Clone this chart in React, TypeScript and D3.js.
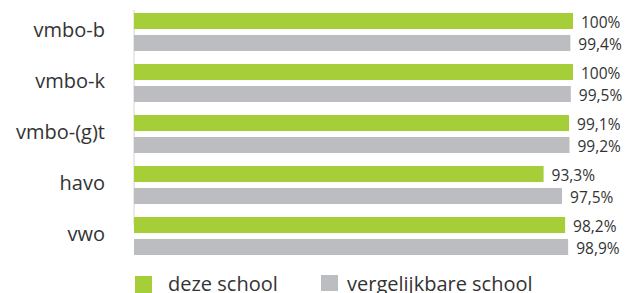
import React from 'react';
import * as d3 from 'd3';

// chart data
const categories = ['vmbo-b', 'vmbo-k', 'vmbo-(g)t', 'havo', 'vwo'];
const dezeSchool = [100, 100, 99.1, 93.3, 98.2];
const vergelijkbaar = [99.4, 99.5, 99.2, 97.5, 98.9];
const seriesNames = ['deze school', 'vergelijkbare school'];

const colors = ['#a6ce39', '#bcbdc0'];
const textColor = '#333333';
const font = "'Open Sans', sans-serif";

const fmt = (v: number) => (v === 100 ? '100%' : d3.format('.1f')(v).replace('.', ',') + '%');

export default function App() {
  const width = 627;
  const height = 293;

  const xScale = d3.scaleLinear().domain([0, 100]).range([134, 573]);
  const yScale = d3.scaleBand<string>().domain(categories).range([13, 255]).paddingInner(0.255).paddingOuter(0);
  const sub = d3.scaleBand<string>().domain(['0', '1']).range([0, yScale.bandwidth()]).paddingInner(0.27);

  const series = [dezeSchool, vergelijkbaar];

  return (
    <svg width={width} height={height} style={{ position: 'absolute', left: 0, top: 0 }} fontFamily={font}>
      <line x1={xScale(0)} x2={xScale(0)} y1={10} y2={225} stroke="#d4d4d4" strokeWidth={1} />
      {categories.map((cat, i) => {
        const y0 = yScale(cat) as number;
        return (
          <g key={cat}>
            <text
              x={105}
              y={y0 + yScale.bandwidth() / 2 + 5}
              textAnchor="end"
              fontSize={20}
              fill={textColor}
            >
              {cat}
            </text>
            {series.map((vals, s) => {
              const y = y0 + (sub(String(s)) as number);
              const x1 = xScale(vals[i]);
              return (
                <g key={s}>
                  <rect x={xScale(0)} y={y} width={x1 - xScale(0)} height={sub.bandwidth()} fill={colors[s]} />
                  <text x={x1 + 8} y={y + sub.bandwidth() / 2 + 7} fontSize={15.5} fill={textColor}>
                    {fmt(vals[i])}
                  </text>
                </g>
              );
            })}
          </g>
        );
      })}
      {/* legend */}
      <g>
        <rect x={135} y={276} width={17} height={17} fill={colors[0]} />
        <text x={168} y={291} fontSize={20} fill={textColor}>{seriesNames[0]}</text>
        <rect x={321} y={275} width={17} height={16} fill={colors[1]} />
        <text x={347} y={291} fontSize={20} fill={textColor}>{seriesNames[1]}</text>
      </g>
    </svg>
  );
}
